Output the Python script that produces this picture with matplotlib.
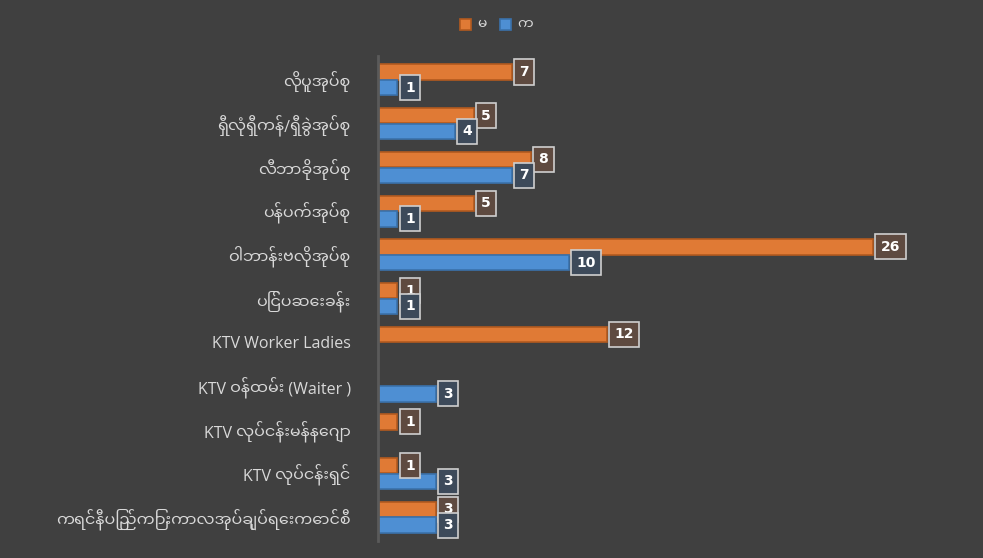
import matplotlib
matplotlib.use("Agg")
import matplotlib.pyplot as plt
import numpy as np

categories = [
    "လိုပူအုပ်စု",
    "ရှီလုံရှီကန်/ရှီခွဲအုပ်စု",
    "လီဘာခိုအုပ်စု",
    "ပန်ပက်အုပ်စု",
    "ဝါဘာန်းဗလိုအုပ်စု",
    "ပြင်ပဆေးခန်း",
    "KTV Worker Ladies",
    "KTV ဝန်ထမ်း (Waiter )",
    "KTV လုပ်ငန်းမန်နေဂျာ",
    "KTV လုပ်ငန်းရှင်",
    "ကရင်နီပြည်ကြားကာလအုပ်ချုပ်ရေးကောင်စီ",
]
female = [7, 5, 8, 5, 26, 1, 12, 0, 1, 1, 3]   # မ
male = [1, 4, 7, 1, 10, 1, 0, 3, 0, 3, 3]      # က
series_names = ["မ", "က"]

plt.rcParams['font.family'] = ["Open Sans", "Noto Sans Myanmar UI", "DejaVu Sans"]

bg = "#404040"
orange = "#E07A35"
blue = "#4E8FD3"
txt = "#d9d9d9"

fig = plt.figure(figsize=(9.83, 5.58), dpi=100, facecolor=bg)
ax = fig.add_axes([0.385, 0.03, 0.565, 0.87], facecolor=bg)

y = np.arange(len(categories))
h = 0.35
ax.barh(y - h/2 - 0.005, female, height=h, color=orange, edgecolor="#b35a1f", linewidth=1.2, label=series_names[0])
ax.barh(y + h/2 + 0.005, male, height=h, color=blue, edgecolor="#3a72ab", linewidth=1.2, label=series_names[1])

# data labels in small boxes
for i in range(len(categories)):
    for val, off, fc in [(female[i], -h/2 - 0.005, "#5e4a40"), (male[i], h/2 + 0.005, "#3d4a5a")]:
        if val == 0:
            continue
        ax.text(val + 0.4, i + off, str(val), ha="left", va="center", color="white",
                fontsize=10, fontweight="bold", family="DejaVu Sans",
                bbox=dict(boxstyle="square,pad=0.4", fc=fc, ec="#cfcfcf", lw=1.2))

ax.set_xlim(0, 29.2)
ax.set_ylim(len(categories) - 0.45, -0.55)
ax.set_yticks(y)
ax.set_yticklabels(categories, color=txt, fontsize=11.5)
ax.tick_params(axis="y", length=0, pad=20)
ax.set_xticks([])
for s in ["top", "right", "bottom"]:
    ax.spines[s].set_visible(False)
ax.spines["left"].set_color("#5a5a5a")
ax.spines["left"].set_linewidth(2)

fig.legend(loc="upper center", bbox_to_anchor=(0.505, 0.99), ncol=2, frameon=False,
           fontsize=10, labelcolor=txt, handlelength=0.8, handleheight=0.8,
           columnspacing=1.0, handletextpad=0.4)

fig.savefig("out.png", dpi=100, facecolor=bg)
